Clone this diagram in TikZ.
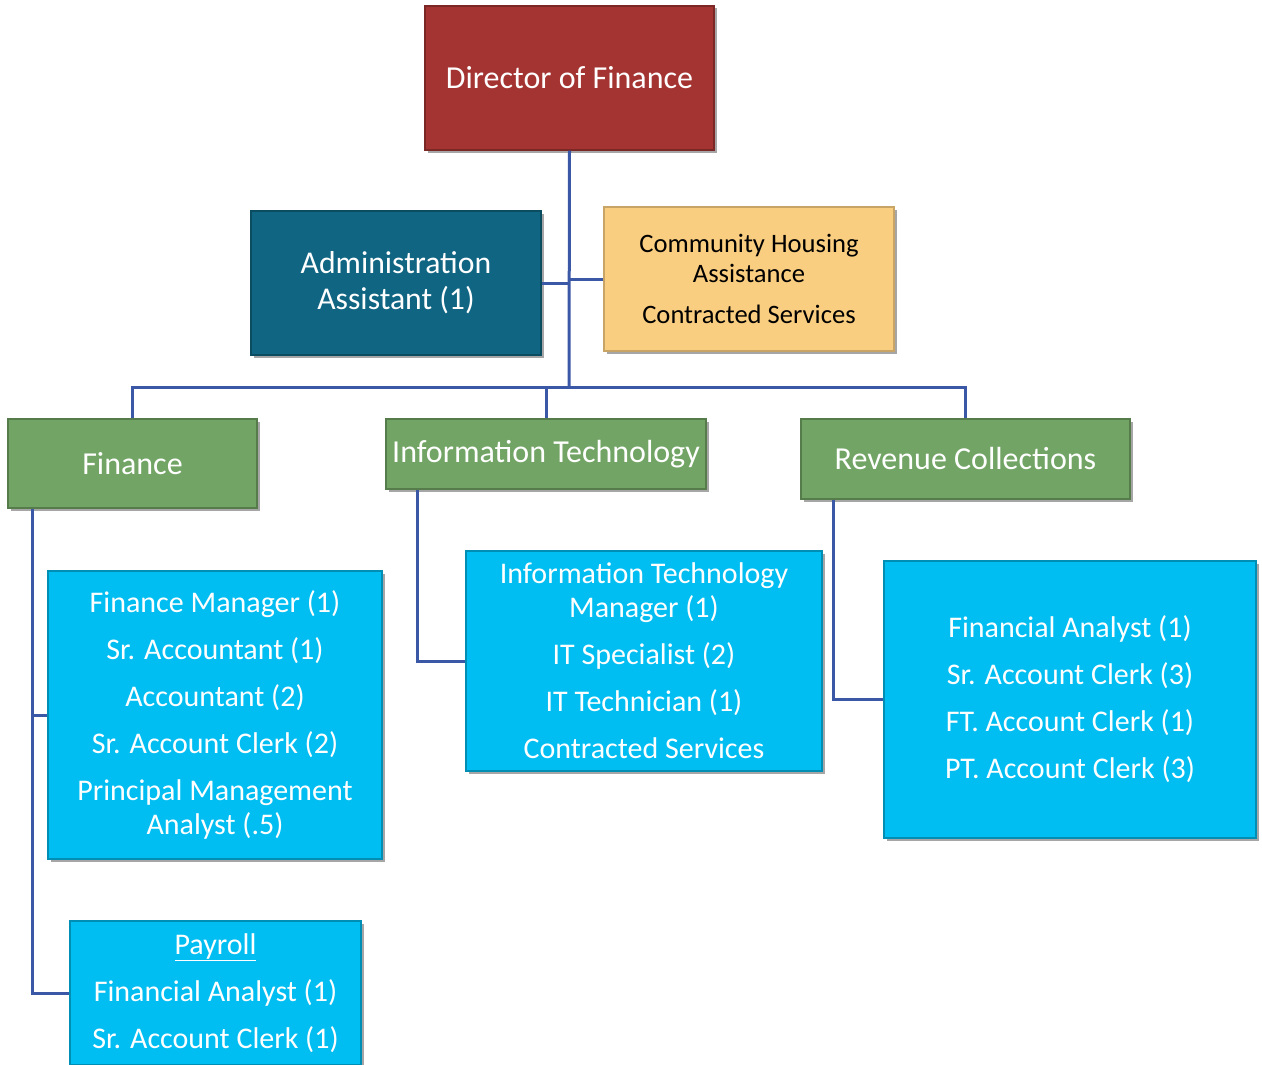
\documentclass[tikz,border=0pt]{standalone}
\usepackage{fontspec}
\setmainfont{Carlito}
\usetikzlibrary{shadows}
\definecolor{cred}{RGB}{164,52,50}
\definecolor{cteal}{RGB}{16,101,130}
\definecolor{cyel}{RGB}{250,206,128}
\definecolor{cgreen}{RGB}{114,165,101}
\definecolor{cblue}{RGB}{0,190,242}
\definecolor{cline}{RGB}{59,88,166}
\tikzset{
  box/.style={rectangle, inner sep=0pt, align=center, line width=1.2pt,
    drop shadow={shadow xshift=2.5pt, shadow yshift=-2.5pt, opacity=0.35, fill=black}},
  redbox/.style={box, fill=cred, draw=cred!75!black, text=white, font=\fontsize{32}{38}\selectfont},
  tealbox/.style={box, fill=cteal, draw=cteal!75!black, text=white, font=\fontsize{31.7}{36}\selectfont},
  yelbox/.style={box, fill=cyel, draw=cyel!80!black, text=black, font=\fontsize{26.6}{30}\selectfont},
  greenbox/.style={box, fill=cgreen, draw=cgreen!75!black, text=white, font=\fontsize{32}{38}\selectfont},
  bluebox/.style={box, fill=cblue, draw=cblue!75!black, text=white, font=\fontsize{30}{34}\selectfont},
  conn/.style={draw=cline, line width=3pt},
}
\begin{document}
\begin{tikzpicture}[x=1pt,y=-1pt]
\useasboundingbox (0,0) rectangle (1262,1065);
% top
\node[redbox, minimum width=289pt, minimum height=144pt] (dir) at (569.5,78) {Director of Finance};
\node[tealbox, minimum width=290pt, minimum height=144pt] (adm) at (396,283) {Administration\\Assistant (1)};
\node[yelbox, minimum width=290pt, minimum height=144pt] (chs) at (749,279) {Community Housing\\Assistance\\[11pt]Contracted Services};
% divisions
\node[greenbox, minimum width=249pt, minimum height=89pt] (fin) at (132.5,463.5) {Finance};
\node[greenbox, minimum width=320pt, minimum height=70pt] (itg) at (546,454) {Information Technology};
\node[greenbox, minimum width=329pt, minimum height=80pt] (rev) at (965.5,459) {Revenue Collections};
% staff boxes
\node[bluebox, minimum width=334pt, minimum height=288pt] (finbox) at (215,715) {Finance Manager (1)\\[13pt]Sr. Accountant (1)\\[13pt]Accountant (2)\\[13pt]Sr. Account Clerk (2)\\[13pt]Principal Management\\Analyst (.5)};
\node[bluebox, minimum width=356pt, minimum height=220pt] (itbox) at (644,661) {Information Technology\\Manager (1)\\[13pt]IT Specialist (2)\\[13pt]IT Technician (1)\\[13pt]Contracted Services};
\node[bluebox, minimum width=372pt, minimum height=277pt] (revbox) at (1070,699.5) {Financial Analyst (1)\\[13pt]Sr. Account Clerk (3)\\[13pt]FT. Account Clerk (1)\\[13pt]PT. Account Clerk (3)};
\node[bluebox, minimum width=291pt, minimum height=144pt] (pay) at (215.5,993) {\underline{Payroll}\\[13pt]Financial Analyst (1)\\[13pt]Sr. Account Clerk (1)};
% connectors
\coordinate (bus) at (569,387);
\draw[conn] (dir.south) -- (bus);
\draw[conn] (adm.east) -- (adm.east -| dir.south);
\draw[conn] (chs.west) -- (chs.west -| dir.south);
\draw[conn] (fin.north) |- (bus) -| (rev.north);
\draw[conn] (itg.north) -- (itg.north |- bus);
\draw[conn] ([xshift=25pt]fin.south west) |- (finbox.west);
\draw[conn] ([xshift=25pt]fin.south west) |- (pay.west);
\draw[conn] ([xshift=32pt]itg.south west) |- (itbox.west);
\draw[conn] ([xshift=33pt]rev.south west) |- (revbox.west);
\end{tikzpicture}
\end{document}
